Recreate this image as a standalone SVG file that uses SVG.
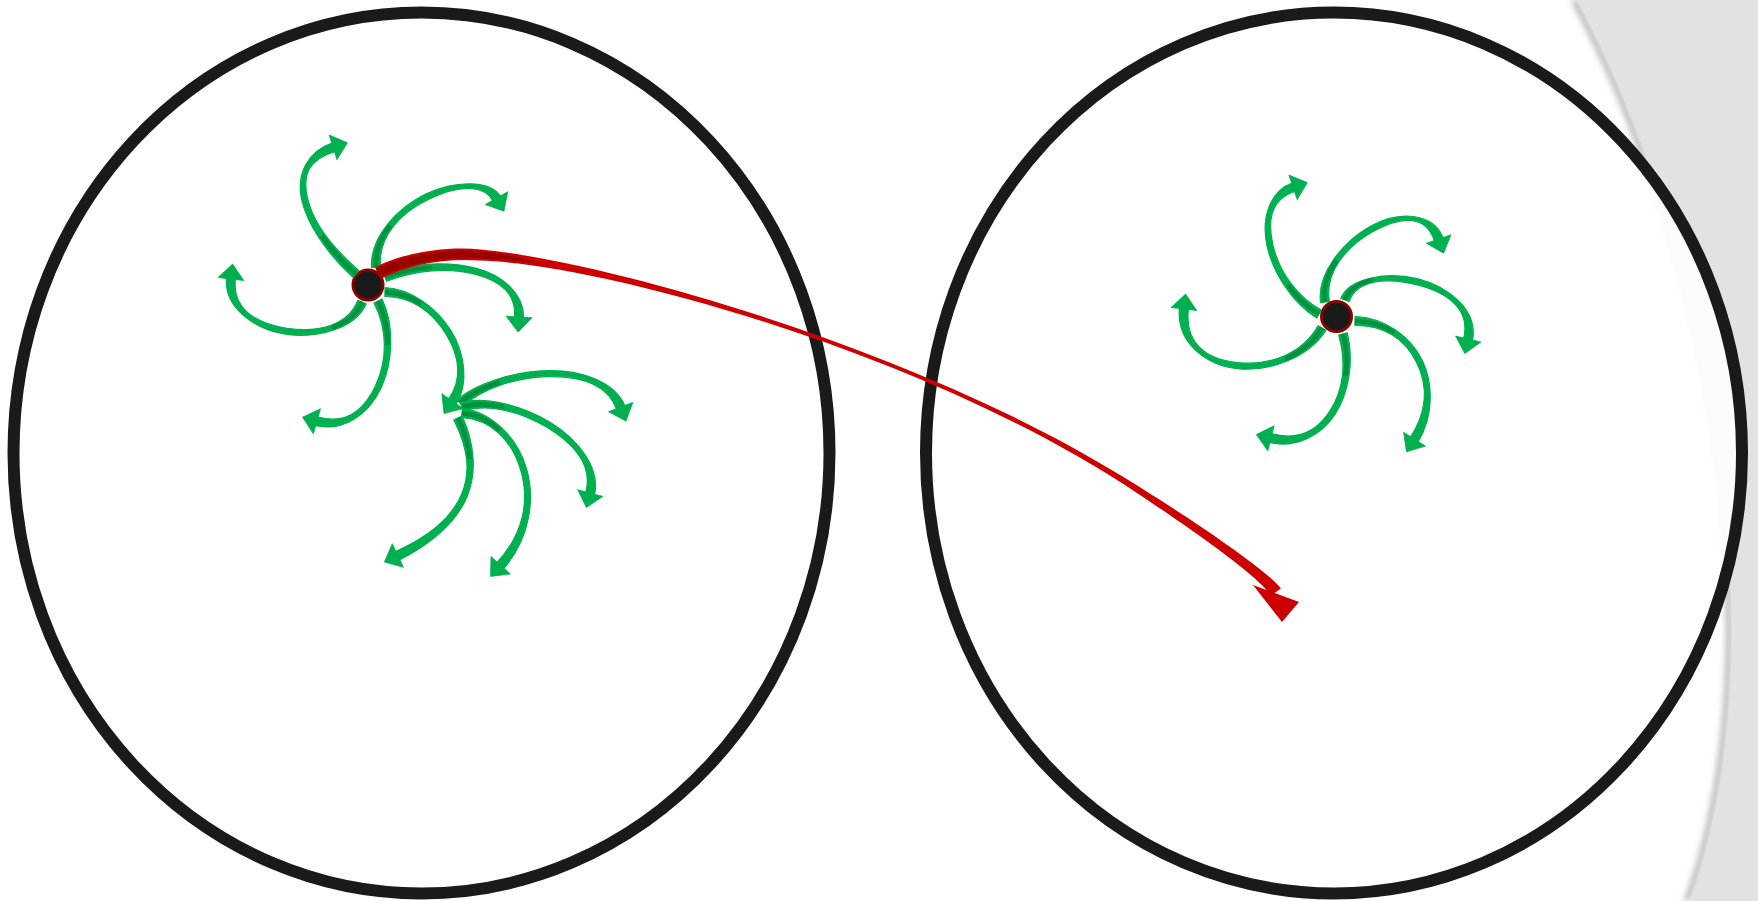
<svg xmlns="http://www.w3.org/2000/svg" width="1758" height="901" viewBox="0 0 1758 901">
<style>
.e{fill:#fff;stroke:#1a1a1a;stroke-width:12}
.hub{fill:#1a1a1a;stroke:#8b0000;stroke-width:3}
.gb{fill:#00b050;stroke:#00b050;stroke-width:1.2;stroke-linejoin:round}
.gh{fill:#00b050;stroke:#00b050;stroke-width:0.8;stroke-linejoin:round}
.gd{fill:none;stroke:#00913f;stroke-width:4.5;stroke-linecap:butt}
.rb{fill:#cc0000;stroke:none}
.rk{fill:#990000;stroke:none}
</style>
<defs>
<filter id="blur" x="-20%" y="-5%" width="140%" height="110%"><feGaussianBlur stdDeviation="3"/></filter>
</defs>

<g id="background">
<rect x="0" y="0" width="1758" height="901" fill="#ffffff"/>
<path d="M1574,0 C1709,250 1779,650 1687,901" fill="none" stroke="#a8a8a8" stroke-width="5" filter="url(#blur)"/>
<path d="M1577,0 C1712,250 1782,650 1690,901 L1758,901 L1758,0 Z" fill="#e2e2e2"/>
</g>

<g id="node-left-region"><ellipse class="e" cx="421.5" cy="453" rx="408" ry="440.5"/></g>
<g id="node-right-region"><ellipse class="e" style="fill-opacity:0.9" cx="1334" cy="453" rx="408" ry="440.5"/></g>

<g id="node-left-hub"><circle class="hub" cx="368" cy="285" r="15"/></g>
<g id="node-right-hub"><circle class="hub" cx="1336.5" cy="316.5" r="15"/></g>

<g id="connectors">
<g id="arrow-a1"><path class="gb" d="M359,270.6 C330.7,246.3 312.4,221 307.3,197.5 C302.3,174 309.1,159.1 335.4,151.3 L332.7,142.7 C306.7,151.4 296.5,175.3 301.5,198.8 C306.5,222.3 325.4,252.3 353,277.4 Z"/><path class="gd" d="M356,274 C342,261.6 330.4,248.5 321.6,235.6"/><polygon class="gh" points="347.4,142.8 337,159.7 329.1,134.9"/></g>
<g id="arrow-a2"><path class="gb" d="M380.5,266.7 C378,235.7 400.6,213 428.8,199.3 C457.1,185.7 483.5,183.5 493.1,201.2 L500.9,196.8 C490.5,179.5 454.5,180.3 426.2,193.9 C398,207.5 370,236.3 371.5,267.3 Z"/><path class="gd" d="M376,267 C375,251.5 380.8,237.3 390.4,225.3"/><polygon class="gh" points="503.9,211.2 485.2,204.6 507.8,191.7"/></g>
<g id="arrow-a3"><path class="gb" d="M386.5,281.2 C416.4,269.8 448.5,267.2 474.9,274.2 C501.2,281.2 516.5,293.8 514.5,317.7 L523.5,318.3 C524.5,294.2 502.8,275.3 476.4,268.3 C450,261.4 413.6,262.2 383.5,272.8 Z"/><path class="gd" d="M385,277 C400,271.5 416.1,268.3 431.7,267.4"/><polygon class="gh" points="518.1,332 506.1,316.2 532,317.8"/></g>
<g id="arrow-a4"><path class="gb" d="M357.8,300.3 C348.3,325.5 318,333 286.8,328.3 C255.7,323.5 231.5,308.5 235.5,278.5 L226.5,277.5 C223.5,307.5 254.8,329.5 285.9,334.2 C317,339 355.7,328.5 366.2,303.7 Z"/><path class="gd" d="M362,302 C357,314.5 345.9,323 332.1,327.8"/><polygon class="gh" points="232.6,264.1 243.8,280.5 218,277.5"/></g>
<g id="arrow-a5"><path class="gb" d="M374,303 C387.9,329.8 387.3,360.7 375.4,386 C363.5,411.2 345.1,425.2 317.2,416.7 L314.8,425.3 C342.9,432.8 369,413.8 380.8,388.5 C392.7,363.3 395.1,326.2 382,299 Z"/><path class="gd" d="M378,301 C384.8,314.5 387.8,329.8 387.6,344.8"/><polygon class="gh" points="302.5,417.2 320.5,408.8 313.4,433.8"/></g>
<g id="arrow-a6"><path class="gb" d="M384.9,296.5 C410.9,296.5 432.2,311.6 445.9,333.9 C459.7,356.3 462.7,379.7 448.3,399.4 L455.7,404.6 C469.3,384.3 464.8,353.2 451.1,330.8 C437.3,308.4 411.1,288.5 385.1,287.5 Z"/><path class="gd" d="M385,292 C398,292.3 410.4,296.8 421.3,304"/><polygon class="gh" points="444,413.5 441.9,393.7 463.2,408.6"/></g>
<g id="arrow-b7"><path class="gb" d="M463,406.4 C482.6,388.5 515.6,377.3 548.4,376.6 C581.3,376 607.8,384.4 616.8,409.6 L625.2,406.4 C615.2,381.6 581.2,370 548.3,370.6 C515.4,371.3 477.4,382.5 457,399.6 Z"/><path class="gd" d="M460,403 C470,394.3 483.9,387.1 499.4,382"/><polygon class="gh" points="626,421.1 608.5,411.7 632.8,402.4"/></g>
<g id="arrow-b8"><path class="gb" d="M463.4,411.3 C486.7,403.3 519.4,410.6 547.3,427.6 C575.2,444.6 593.1,466.5 585.6,492.9 L594.4,495.2 C600.9,468.5 578.3,439.4 550.4,422.4 C522.6,405.4 484.3,395.7 460.6,402.7 Z"/><path class="gd" d="M462,407 C473.8,403.3 488.5,403.5 503.8,406.8"/><polygon class="gh" points="586.4,507.5 577.7,489.7 602.8,496.4"/></g>
<g id="arrow-b9"><path class="gb" d="M461.6,417.5 C490.7,419.5 511.4,439.4 520.5,469.4 C529.6,499.4 524.5,532.8 496.7,563 L503.3,569 C530.5,538.2 535.4,497.6 526.2,467.6 C517.1,437.6 491.3,411.5 462.4,408.5 Z"/><path class="gd" d="M462,413 C476.5,414.3 489.6,420.6 500.1,430.4"/><polygon class="gh" points="490.6,576.4 491,556.6 510.3,574"/></g>
<g id="arrow-b10"><path class="gb" d="M453.9,419.9 C467.9,448.2 471.2,471.3 461.5,494.5 C451.7,517.6 430.8,535.4 395.1,551.9 L398.9,560.1 C434.2,542.6 457.3,519.9 467,496.8 C476.8,473.7 475.1,444.8 462.1,416.1 Z"/><path class="gd" d="M458,418 C464.8,432.3 468.8,445.9 469.8,458.8"/><polygon class="gh" points="384.4,562 392.3,543.8 403.5,567.3"/></g>
<g id="arrow-r1"><path class="gb" d="M1321.2,310.1 C1296.5,296.5 1279.2,271.6 1273,245.3 C1266.9,219.1 1271.3,198.8 1295.4,191.3 L1292.6,182.7 C1268.7,191.2 1261.1,220.4 1267.2,246.7 C1273.3,272.9 1292.5,303.5 1316.8,317.9 Z"/><path class="gd" d="M1319,314 C1306.8,307 1296.1,296.6 1287.7,284.5"/><polygon class="gh" points="1307.3,182.6 1297.2,199.7 1288.9,175"/></g>
<g id="arrow-r2"><path class="gb" d="M1329.4,301.3 C1324.5,272.9 1345.7,246.9 1373,231.6 C1400.2,216.4 1425.7,213.8 1434.7,241.5 L1443.3,238.5 C1433.3,211.2 1397.3,211.1 1370,226.4 C1342.8,241.6 1316.6,274.1 1320.6,302.7 Z"/><path class="gd" d="M1325,302 C1322.8,287.8 1327.6,273.3 1336.3,260.5"/><polygon class="gh" points="1443.6,253.2 1426.4,243.3 1451,234.8"/></g>
<g id="arrow-r3"><path class="gb" d="M1349.2,301.5 C1356.3,280.3 1386,276.9 1416.6,284.7 C1447.3,292.4 1471.1,309.1 1463.6,339 L1472.4,341 C1478.9,310.9 1448.7,286.6 1418.1,278.8 C1387.5,271.1 1348.7,277.7 1340.8,298.5 Z"/><path class="gd" d="M1345,300 C1348.8,289.5 1359.2,283 1372.5,280.1"/><polygon class="gh" points="1464.8,353.6 1455.6,336.1 1480.9,342"/></g>
<g id="arrow-r4"><path class="gb" d="M1318.1,325.7 C1301.6,354.5 1268.8,366 1237.6,362.6 C1206.3,359.3 1184,343.5 1188.5,308.5 L1179.5,307.5 C1176,342.5 1205.7,365.2 1236.9,368.6 C1268.2,372 1308.4,358.5 1325.9,330.3 Z"/><path class="gd" d="M1322,328 C1313.5,342.3 1300.1,352.5 1285,358.8"/><polygon class="gh" points="1185.6,294.1 1196.8,310.5 1171,307.5"/></g>
<g id="arrow-r5"><path class="gb" d="M1338.7,335.2 C1346.6,363 1343.5,389.9 1330.2,410.6 C1317,431.4 1298.5,441.1 1271.1,433.6 L1268.9,442.4 C1296.5,448.9 1322,434.6 1335.3,413.9 C1348.5,393.1 1354.4,361 1347.3,332.8 Z"/><path class="gd" d="M1343,334 C1346.8,348 1347.5,362.4 1345.7,375.8"/><polygon class="gh" points="1256.4,434.5 1274.2,425.7 1267.8,450.9"/></g>
<g id="arrow-r6"><path class="gb" d="M1354.9,325.5 C1384.9,325.5 1405.3,339.6 1416.7,362.7 C1428.1,385.8 1427.1,411.9 1410.2,437.6 L1417.8,442.4 C1433.9,416.1 1433.4,383.2 1422.1,360.1 C1410.7,336.9 1385.1,317.5 1355.1,316.5 Z"/><path class="gd" d="M1355,321 C1370,321.3 1383.3,325.6 1394.2,332.7"/><polygon class="gh" points="1406.5,451.8 1403.6,432.2 1425.5,446.1"/></g>

<g id="arrow-red">
<path class="rb" d="M381,278.8 C408,264.8 444.5,258 479.6,260.5 C599.9,264 910.4,348.4 1119.4,481.5 C1154.1,504 1254.5,570.6 1271.1,595.5 L1280.9,588.5 C1262.7,564.8 1157.9,498 1122.6,476.5 C911.6,346.4 600.1,260 480.4,249.5 C445.5,246 402,253.2 375,267.2 Z"/>
<path class="rk" d="M380.1,277 C407.1,263 444.7,256 479.7,258.5 C505,259.5 525,262 540,263 C525,259 505,253 480.3,251.5 C445.3,248 402.9,255 375.9,269 Z"/>
<polygon class="rb" points="1253,585 1282,622 1299,602"/>
</g>
</g>
</svg>
